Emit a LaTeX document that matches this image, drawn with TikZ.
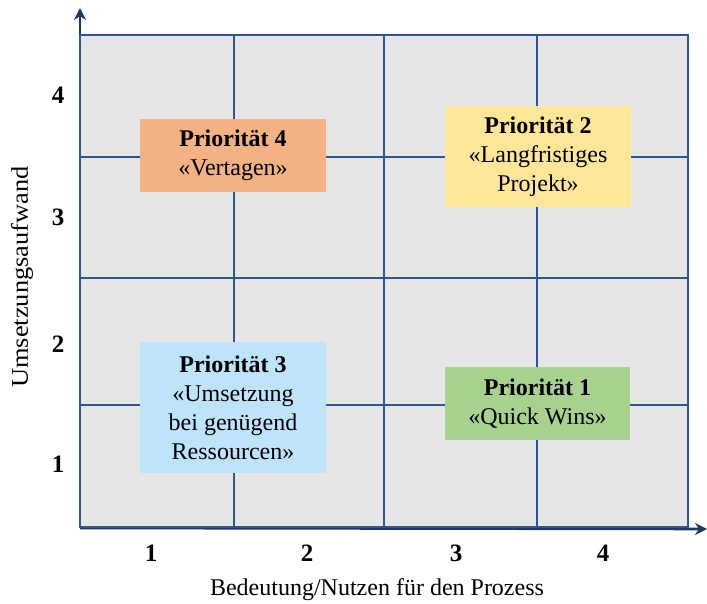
\documentclass[tikz,border=0pt]{standalone}
\usepackage{fontspec}
\setmainfont{Liberation Serif}
\usetikzlibrary{arrows.meta}
\definecolor{gridblue}{HTML}{2F5597}
\definecolor{axisnavy}{HTML}{1F3864}
\definecolor{cellgrey}{HTML}{E7E6E6}
\definecolor{prioA}{HTML}{A9D18E}
\definecolor{prioB}{HTML}{FFE699}
\definecolor{prioC}{HTML}{BDE3FD}
\definecolor{prioD}{HTML}{F4B183}
\tikzset{
  gridline/.style={draw=gridblue, line width=2.8pt},
  axisline/.style={draw=axisnavy, line width=2.6pt, -{Stealth[length=12pt,width=12pt]}},
  prio/.style={inner sep=0pt, align=center, font=\fontsize{24}{29}\selectfont},
  ticklabel/.style={font=\fontsize{25}{28}\selectfont\bfseries},
  axistitle/.style={font=\fontsize{24}{28}\selectfont}
}
\begin{document}
\begin{tikzpicture}[x=1pt, y=-1pt]
  \useasboundingbox (0,0) rectangle (707,604);
  % plotting area
  \fill[cellgrey] (80,35) rectangle (688,527);
  % axes with arrow tips
  \coordinate (origin) at (80,528);
  \coordinate (ytip) at (80,8);
  \coordinate (xtip) at (707,529);
  \draw[axisline] (origin) -- (ytip);
  \draw[axisline] (origin) -- (xtip);
  % 4x4 grid
  \foreach \x in {234,384,537} \draw[gridline] (\x,35) -- (\x,527);
  \foreach \y in {157,278,405} \draw[gridline] (80,\y) -- (688,\y);
  \draw[gridline] (80,35) rectangle (688,527);
  % priority boxes
  \node[prio, fill=prioD, minimum width=186pt, minimum height=73pt] (p4) at (233,155.5)
    {\textbf{Priorität 4}\\«Vertagen»};
  \node[prio, fill=prioB, minimum width=186pt, minimum height=101pt] (p2) at (538,156.5)
    {\textbf{Priorität 2}\\«Langfristiges\\Projekt»};
  \node[prio, fill=prioC, minimum width=186pt, minimum height=131pt] (p3) at (233,407.5)
    {\textbf{Priorität 3}\\«Umsetzung\\bei genügend\\Ressourcen»};
  \node[prio, fill=prioA, minimum width=185pt, minimum height=73pt] (p1) at (537.5,403.5)
    {\textbf{Priorität 1}\\«Quick Wins»};
  % tick labels
  \node[ticklabel] (y4) at (58,95) {4};
  \node[ticklabel] (y3) at (58,217) {3};
  \node[ticklabel] (y2) at (58,344) {2};
  \node[ticklabel] (y1) at (58,464) {1};
  \node[ticklabel] (x1) at (151,553) {1};
  \node[ticklabel] (x2) at (307,553) {2};
  \node[ticklabel] (x3) at (456,553) {3};
  \node[ticklabel] (x4) at (603,553) {4};
  % axis titles
  \node[axistitle] (xt) at (377,590) {Bedeutung/Nutzen für den Prozess};
  \node[axistitle, rotate=90, xscale=1.1] (yt) at (22,277) {Umsetzungsaufwand};
\end{tikzpicture}
\end{document}
